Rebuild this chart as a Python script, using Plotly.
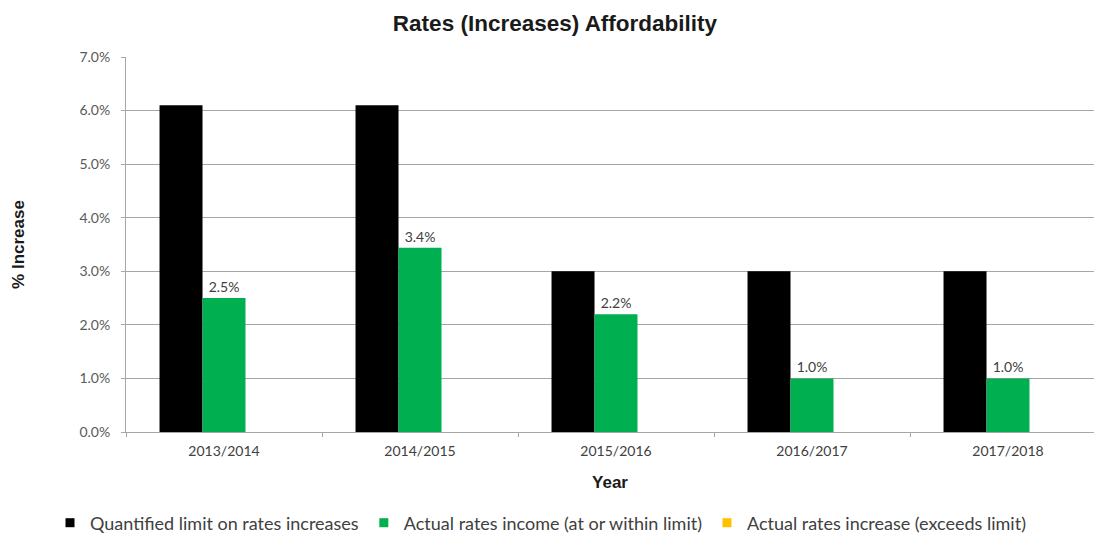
import plotly.graph_objects as go

years = ["2013/2014", "2014/2015", "2015/2016", "2016/2017", "2017/2018"]
limit_pct = [6.1, 6.1, 3.0, 3.0, 3.0]
within_pct = [2.5, 3.44, 2.2, 1.0, 1.0]
exceeds_pct = [None, None, None, None, None]

series_names = [
    "Quantified limit on rates increases",
    "Actual rates income (at or within limit)",
    "Actual rates increase (exceeds limit)",
]
series_colors = ["#000000", "#00B050", "#FFC000"]

body_font = "Lato, Calibri, 'Open Sans', sans-serif"
head_font = "'Liberation Sans', Arial, sans-serif"

fig = go.Figure()
for name, vals, color in zip(series_names, [limit_pct, within_pct, exceeds_pct], series_colors):
    labelled = name == series_names[1]
    fig.add_trace(go.Bar(
        x=years, y=[None if v is None else v / 100 for v in vals], name=name,
        marker=dict(color=color, line=dict(width=0)),
        showlegend=False,
        texttemplate="%{y:.1%}" if labelled else None,
        textposition="outside" if labelled else "none",
        cliponaxis=False,
        textfont=dict(family=body_font, size=14, color="#404040"),
    ))
    # small square legend key for the series
    fig.add_trace(go.Scatter(
        x=[None], y=[None], mode="markers", name=name,
        marker=dict(symbol="square", size=9, color=color),
        showlegend=True, hoverinfo="skip",
    ))

fig.update_layout(
    width=1094, height=538,
    margin=dict(l=126, r=0, t=57, b=106, autoexpand=False),
    paper_bgcolor="white", plot_bgcolor="white",
    barmode="group", bargap=0.342, bargroupgap=0,
    title=dict(
        text="<b>Rates (Increases) Affordability</b>",
        x=555 / 1094, xanchor="center", y=1 - 23 / 538, yanchor="middle",
        font=dict(family=head_font, size=22.5, color="#1a1a1a"),
    ),
    xaxis=dict(
        range=[-0.5, -0.5 + 968 / 196],
        showgrid=False, showline=True, linecolor="#a6a6a6", linewidth=1,
        ticks="outside", tickson="boundaries", ticklen=4, tickcolor="#a6a6a6",
        ticklabelstandoff=6, automargin=False,
        tickfont=dict(family=body_font, size=14, color="#404040"),
        title=dict(text="<b>Year</b>", standoff=18,
                   font=dict(family=head_font, size=17, color="#1a1a1a")),
    ),
    yaxis=dict(
        range=[0, 0.07], dtick=0.01, tickformat=".1%",
        showgrid=True, gridcolor="#a6a6a6", gridwidth=1,
        showline=True, linecolor="#a6a6a6", linewidth=1,
        ticks="outside", ticklen=4, tickcolor="#a6a6a6",
        ticklabelstandoff=8, automargin=False,
        tickfont=dict(family=body_font, size=14, color="#595959"),
        zeroline=False,
        title=dict(text="<b>% Increase</b>", standoff=50,
                   font=dict(family=head_font, size=17, color="#1a1a1a")),
    ),
    showlegend=True,
    legend=dict(
        orientation="h", x=(50 - 126) / 968, xanchor="left",
        y=(432 - 523) / 375, yanchor="middle",
        font=dict(family=body_font, size=18, color="#404040"),
        itemwidth=30, traceorder="normal",
    ),
)

fig.write_html("out.html")
